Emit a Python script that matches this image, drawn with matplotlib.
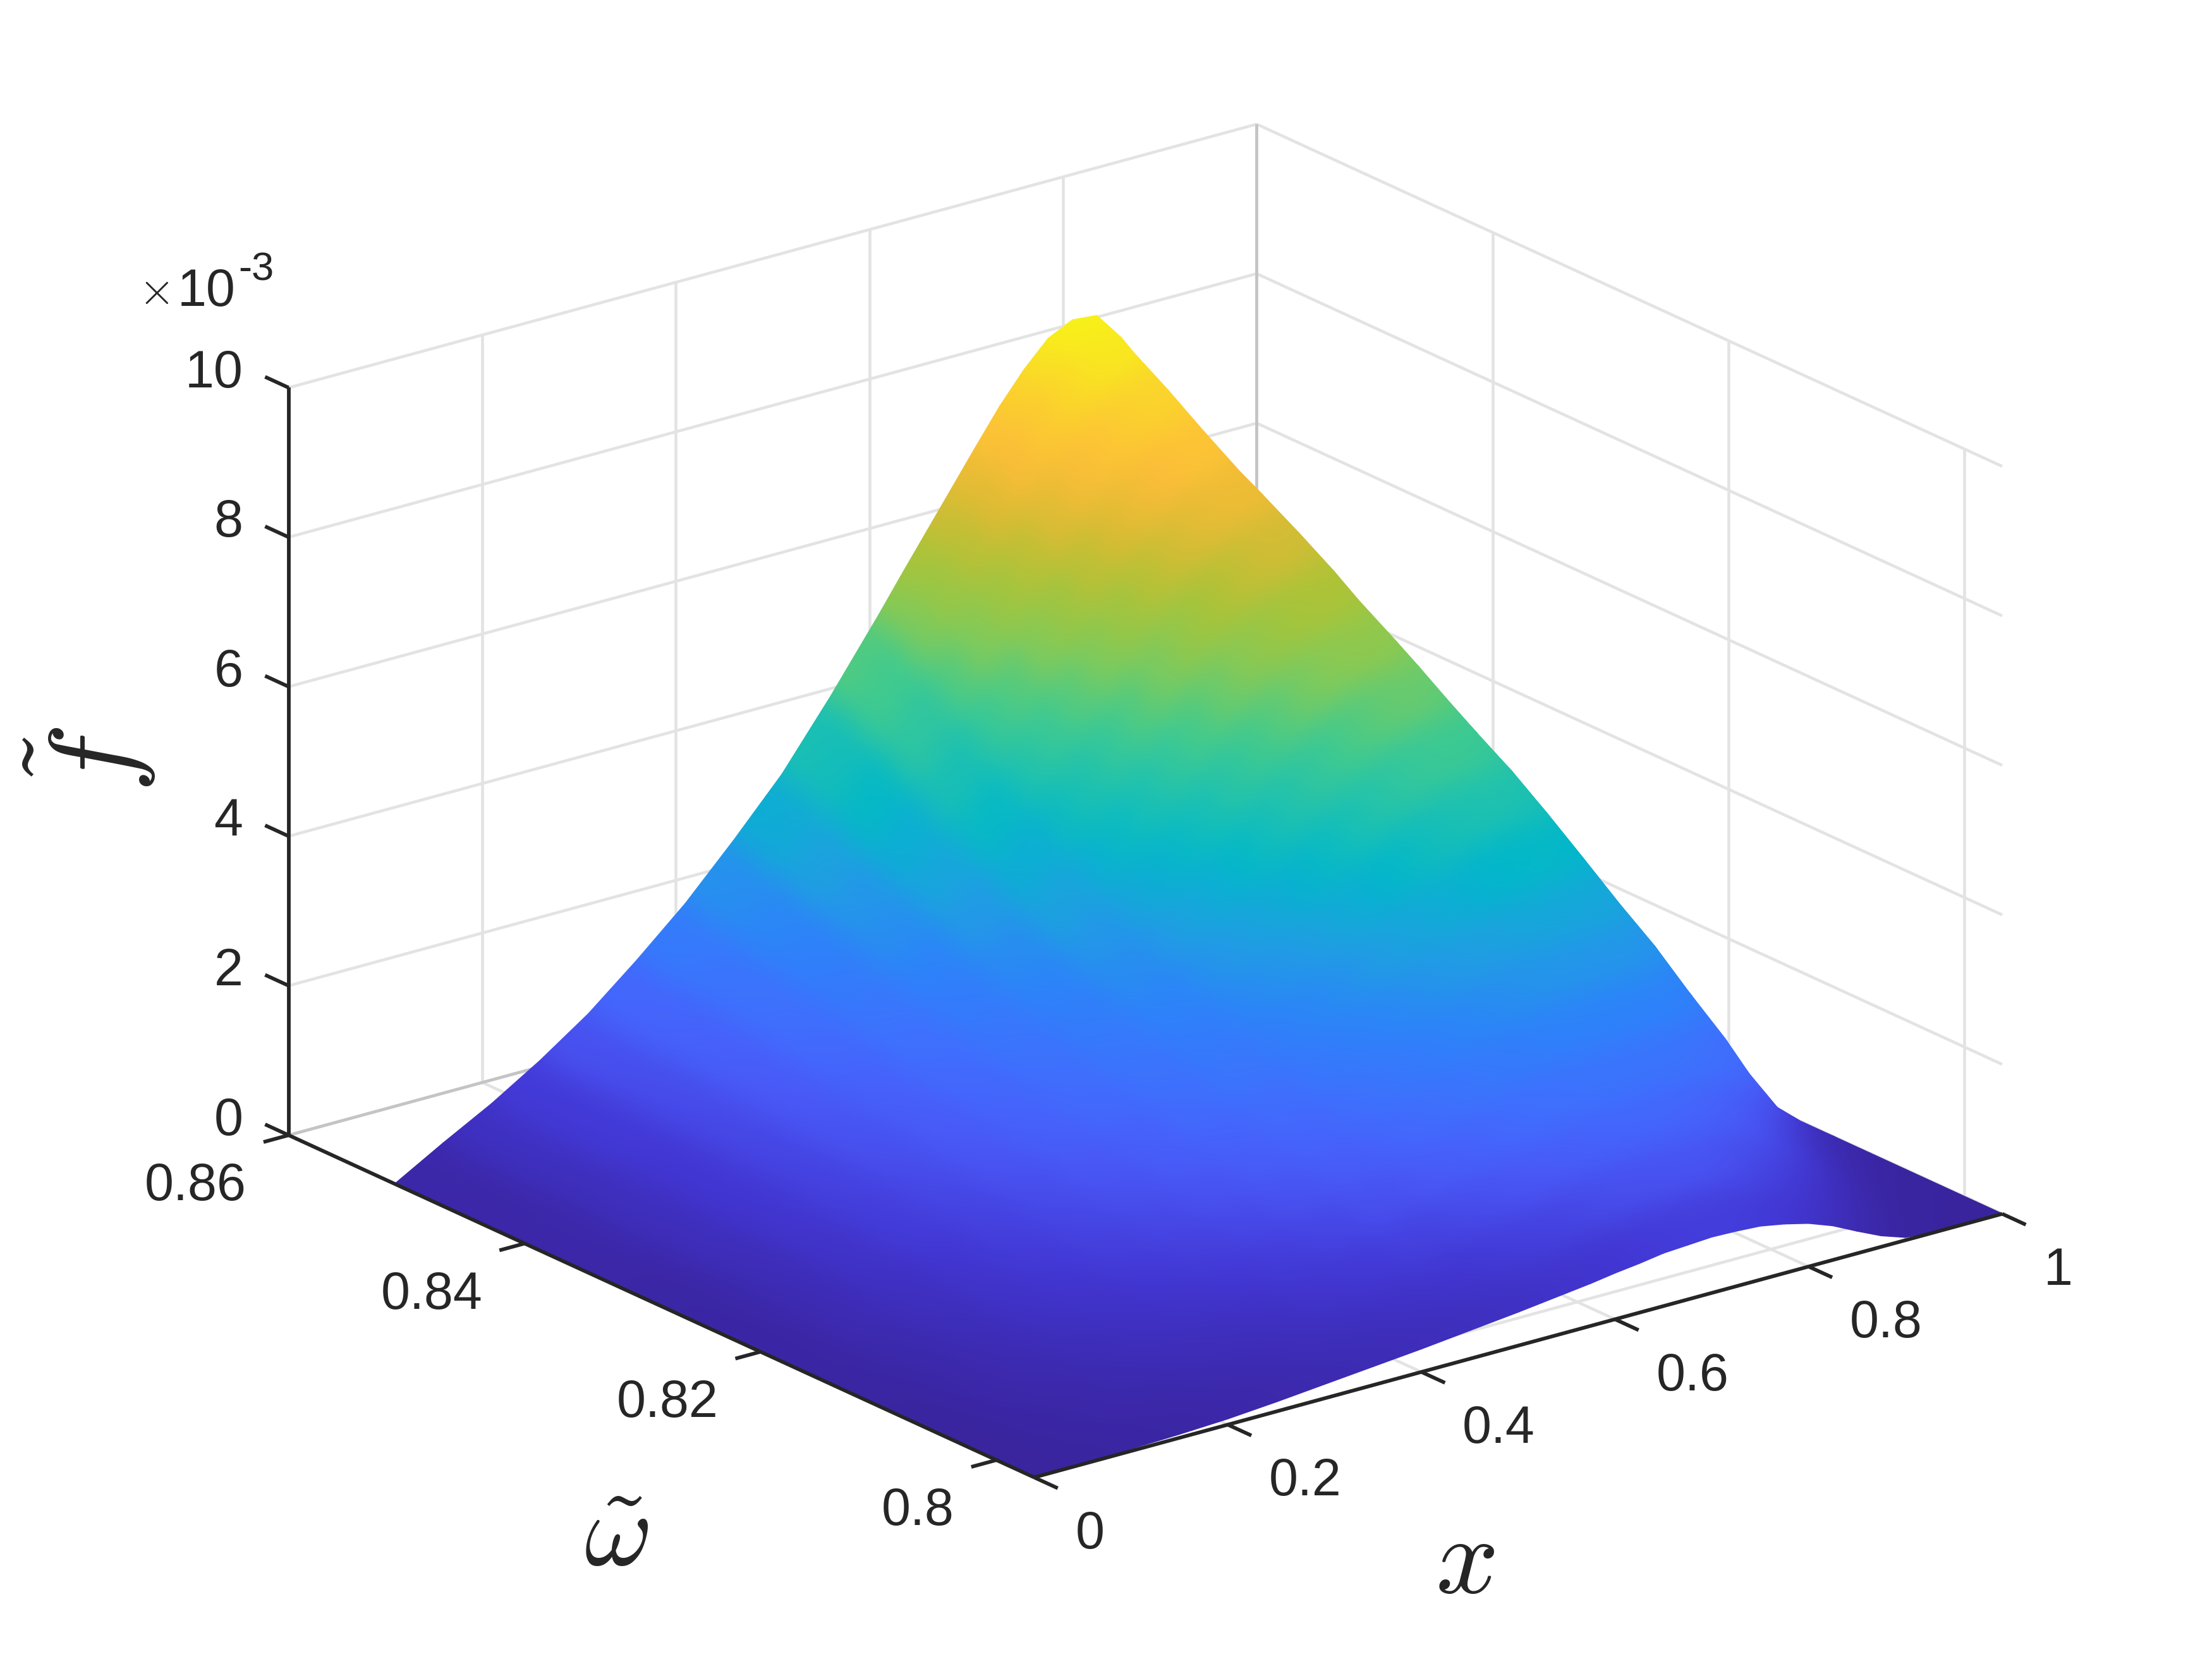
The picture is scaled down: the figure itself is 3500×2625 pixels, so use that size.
import matplotlib
matplotlib.use('Agg')
from matplotlib import pyplot as plt
from matplotlib.colors import LinearSegmentedColormap
from mpl_toolkits.mplot3d import proj3d
import numpy as np

# x columns and omega rows of the surface, f in units of 1e-3
x_vals = [0, .05, .1, .15, .2, .25, .3, .35, .4, .45, .5, .525, .55, .575, .6, .625, .65, .675, .7, .725,
          .75, .775, .8, .825, .85, .875, .9, .925, .95, 1]
w_vals = [.7968, .799, .802, .805, .808, .811, .814, .817, .82, .823, .826, .829, .832, .835, .838, .841,
          .844, .847, .85, .851]

f_w0 = [0, .01, .03, .05, .08, .13, .19, .25, .31, .38, .45, .49, .53, .57, .62, .66, .71, .73, .75, .74, .72, .66, .58, .46, .30, .15, .04, .01, 0, 0]
f_w1 = [0, .04, .09, .14, .19, .26, .32, .39, .48, .58, .69, .75, .82, .89, .95, 1.02, 1.08, 1.12, 1.15, 1.17, 1.13, .98, .86, .69, .50, .31, .12, .03, 0, 0]
f_w2 = [0, .06, .13, .21, .28, .37, .46, .55, .67, .80, .96, 1.04, 1.14, 1.23, 1.31, 1.40, 1.48, 1.54, 1.58, 1.60, 1.60, 1.50, 1.33, 1.10, .85, .58, .32, .13, .03, 0]
f_w3 = [0, .08, .18, .30, .41, .51, .63, .75, .92, 1.05, 1.25, 1.33, 1.43, 1.54, 1.64, 1.76, 1.86, 1.90, 1.95, 1.98, 1.98, 1.96, 1.87, 1.72, 1.50, 1.15, .75, .40, .16, 0]
f_w4 = [0, .11, .24, .40, .55, .68, .82, .99, 1.14, 1.34, 1.53, 1.63, 1.74, 1.88, 2.01, 2.14, 2.26, 2.34, 2.39, 2.42, 2.43, 2.43, 2.40, 2.36, 2.06, 1.50, .98, .60, .32, 0]
f_w5 = [0, .14, .30, .48, .63, .81, .98, 1.16, 1.34, 1.55, 1.78, 1.90, 2.03, 2.18, 2.34, 2.47, 2.60, 2.71, 2.80, 2.85, 2.88, 2.88, 2.87, 2.87, 2.45, 1.92, 1.32, .82, .44, 0]
f_w6 = [0, .18, .34, .56, .77, .95, 1.14, 1.34, 1.53, 1.75, 2.02, 2.17, 2.32, 2.48, 2.64, 2.80, 2.94, 3.08, 3.20, 3.26, 3.30, 3.30, 3.30, 3.25, 2.87, 2.32, 1.58, 1.00, .56, 0]
f_w7 = [0, .19, .41, .65, .84, 1.07, 1.25, 1.47, 1.68, 1.94, 2.25, 2.41, 2.56, 2.73, 2.90, 3.09, 3.26, 3.39, 3.53, 3.61, 3.67, 3.72, 3.74, 3.67, 3.22, 2.62, 1.82, 1.20, .68, 0]
f_w8 = [0, .22, .46, .75, .99, 1.19, 1.41, 1.63, 1.88, 2.18, 2.54, 2.69, 2.85, 3.05, 3.25, 3.42, 3.62, 3.77, 3.93, 4.09, 4.22, 4.30, 4.30, 4.05, 3.60, 2.90, 2.10, 1.38, .80, 0]
f_w9 = [0, .24, .50, .79, 1.04, 1.27, 1.49, 1.75, 2.03, 2.37, 2.72, 2.90, 3.10, 3.33, 3.52, 3.75, 3.97, 4.21, 4.44, 4.62, 4.72, 4.78, 4.75, 4.43, 3.97, 3.20, 2.38, 1.58, .92, 0]
f_w10 = [0, .26, .55, .85, 1.10, 1.34, 1.59, 1.88, 2.20, 2.56, 2.95, 3.16, 3.37, 3.63, 3.86, 4.16, 4.46, 4.73, 4.98, 5.17, 5.28, 5.35, 5.18, 4.75, 4.32, 3.60, 2.72, 1.85, 1.08, 0]
f_w11 = [0, .27, .59, .90, 1.17, 1.42, 1.70, 2.01, 2.37, 2.75, 3.21, 3.44, 3.70, 3.99, 4.31, 4.65, 4.99, 5.28, 5.52, 5.72, 5.81, 5.82, 5.52, 5.07, 4.62, 3.95, 3.05, 2.10, 1.25, 0]
f_w12 = [0, .28, .60, .94, 1.22, 1.49, 1.78, 2.14, 2.52, 2.94, 3.46, 3.70, 4.02, 4.39, 4.76, 5.13, 5.48, 5.80, 6.02, 6.19, 6.30, 6.22, 5.85, 5.40, 4.92, 4.15, 3.20, 2.25, 1.35, 0]
f_w13 = [0, .30, .61, .98, 1.29, 1.60, 1.95, 2.34, 2.76, 3.22, 3.79, 4.07, 4.46, 4.85, 5.23, 5.64, 6.00, 6.30, 6.56, 6.70, 6.80, 6.62, 6.15, 5.65, 5.05, 4.20, 3.25, 2.32, 1.40, 0]
f_w14 = [0, .32, .64, 1.01, 1.34, 1.71, 2.11, 2.53, 3.02, 3.57, 4.19, 4.54, 4.96, 5.35, 5.77, 6.22, 6.57, 6.86, 7.12, 7.25, 7.23, 6.92, 6.45, 5.85, 5.10, 4.18, 3.28, 2.35, 1.42, 0]
f_w15 = [0, .32, .66, 1.03, 1.39, 1.81, 2.23, 2.72, 3.25, 3.85, 4.56, 4.94, 5.38, 5.79, 6.22, 6.70, 7.05, 7.34, 7.60, 7.73, 7.62, 7.20, 6.60, 5.90, 5.10, 4.20, 3.30, 2.36, 1.42, 0]
f_w16 = [0, .34, .65, 1.08, 1.45, 1.92, 2.37, 2.90, 3.48, 4.20, 4.96, 5.33, 5.81, 6.25, 6.69, 7.16, 7.52, 7.81, 8.08, 8.20, 7.93, 7.45, 6.85, 6.02, 5.17, 4.28, 3.35, 2.40, 1.45, 0]
f_w17 = [0, .35, .67, 1.08, 1.48, 1.99, 2.52, 3.12, 3.79, 4.55, 5.36, 5.78, 6.27, 6.71, 7.16, 7.64, 8.02, 8.33, 8.56, 8.61, 8.26, 7.72, 7.02, 6.15, 5.25, 4.33, 3.38, 2.42, 1.45, 0]
f_w18 = [0, .36, .70, 1.10, 1.55, 2.08, 2.66, 3.30, 4.01, 4.85, 5.70, 6.15, 6.62, 7.10, 7.58, 8.08, 8.47, 8.80, 8.97, 8.95, 8.56, 7.85, 7.10, 6.25, 5.35, 4.40, 3.42, 2.45, 1.48, 0]
f_w19 = [0, .37, .72, 1.12, 1.57, 2.11, 2.69, 3.36, 4.07, 4.93, 5.85, 6.33, 6.80, 7.27, 7.74, 8.20, 8.60, 8.93, 9.09, 9.06, 8.68, 7.90, 7.15, 6.30, 5.40, 4.40, 3.40, 2.45, 1.50, 0]

x_ticks = [0, .2, .4, .6, .8, 1]
x_labels = ['0', '0.2', '0.4', '0.6', '0.8', '1']
w_ticks = [.80, .82, .84, .86]
w_labels = ['0.8', '0.82', '0.84', '0.86']
z_ticks = [0, 2, 4, 6, 8, 10]
z_labels = ['0', '2', '4', '6', '8', '10']

cmap_pos = [0, .09, .16, .22, .29, .36, .43, .5, .57, .64, .71, .78, .85, .92, 1]
cmap_cols = ['#3a259f', '#4338d6', '#4a5af8', '#4070ff', '#2d84fa', '#20a0e2', '#02b8cb', '#22c3ae',
             '#45cc8c', '#85cb58', '#aac438', '#dcbc34', '#ffbe3a', '#fbd52c', '#f8fb14']

plt.rcParams['font.family'] = ['Liberation Sans', 'DejaVu Sans']
plt.rcParams['mathtext.fontset'] = 'cm'
text_col = '#262626'
grid_col = '#e3e3e3'

x_min, x_max = 0, 1
w_min, w_max = .7968, .86
z_min, z_max = 0, 10

fig = plt.figure(figsize=(10, 7.5), dpi=350)
ax = fig.add_axes([.0077, .0038, 1, 1], projection='3d', proj_type='ortho', computed_zorder=False)
ax.view_init(elev=20.7, azim=-127.6)
ax.set_box_aspect((1, 1, .654), zoom=1.114)
ax.set_xlim(x_min, x_max, view_margin=0)
ax.set_ylim(w_min, w_max, view_margin=0)
ax.set_zlim(z_min, z_max, view_margin=0)
ax.set_axis_off()


def line(xs, ys, zs, col=grid_col, lw=.95, z=1):
    ax.plot(xs, ys, zs, color=col, lw=lw, zorder=z, clip_on=False, solid_capstyle='butt')


def label(x, y, z, s, ha):
    xp, yp, _ = proj3d.proj_transform(x, y, z, ax.get_proj())
    ax.text2D(xp, yp, s, transform=ax.transData, fontsize=17, color=text_col, ha=ha, va='center')


def box_blur(a, r, axis):
    n = a.shape[axis]
    pad = [(0, 0)] * a.ndim
    pad[axis] = (r + 1, r)
    c = np.cumsum(np.pad(a, pad), axis=axis)
    return np.take(c, np.arange(2 * r + 1, n + 2 * r + 1), axis=axis) - np.take(c, np.arange(n), axis=axis)


def smooth_shading(image, dpi):
    # evens out the flat facet colours when drawn, the outline of the surface stays as it is
    alpha = image[:, :, 3]
    rgb = image[:, :, :3] * alpha[:, :, None]
    weight = alpha.copy()
    for _ in range(3):
        for axis in (0, 1):
            rgb = box_blur(rgb, 16, axis)
            weight = box_blur(weight, 16, axis)
    out = image.copy()
    out[:, :, :3] = np.clip(rgb / np.maximum(weight, 1e-9)[:, :, None], 0, 1)
    return out, 0, 0


# back walls and floor grid
for t in x_ticks:
    if t < x_max:
        line([t, t], [w_min, w_max], [0, 0])
        line([t, t], [w_max, w_max], [z_min, z_max])
for t in w_ticks:
    line([x_min, x_max], [t, t], [0, 0])
    line([x_max, x_max], [t, t], [z_min, z_max])
for t in z_ticks:
    line([x_min, x_max], [w_max, w_max], [t, t])
    line([x_max, x_max], [w_min, w_max], [t, t])
line([x_max, x_max], [w_max, w_max], [z_min, z_max], col='#c4c4c4')
line([x_min, x_max], [w_max, w_max], [0, 0], col='#c4c4c4')

# surface
X, W = np.meshgrid(x_vals, w_vals)
F = np.array([f_w0, f_w1, f_w2, f_w3, f_w4, f_w5, f_w6, f_w7, f_w8, f_w9, f_w10, f_w11, f_w12, f_w13, f_w14,
              f_w15, f_w16, f_w17, f_w18, f_w19])
cmap = LinearSegmentedColormap.from_list('surf_map', list(zip(cmap_pos, cmap_cols)))
surf = ax.plot_surface(X, W, F, rstride=1, cstride=1, cmap=cmap, vmin=0, vmax=9.1,
                       antialiased=True, shade=False, zorder=2)
surf.set_edgecolor('face')
surf.set_linewidth(.4)
surf.set_clip_on(False)
surf.set_agg_filter(smooth_shading)

# axis lines, ticks and tick labels
line([x_min, x_max], [w_min, w_min], [0, 0], col=text_col, lw=1.2, z=3)
line([x_min, x_min], [w_min, w_max], [0, 0], col=text_col, lw=1.2, z=3)
line([x_min, x_min], [w_max, w_max], [z_min, z_max], col=text_col, lw=1.2, z=3)
for t, s in zip(x_ticks, x_labels):
    line([t, t], [w_min, w_min - .002], [0, 0], col=text_col, lw=1.2, z=3)
    label(t - .0537, w_min - .0079, 0, s, 'left')
for t, s in zip(w_ticks, w_labels):
    line([x_min, x_min - .026], [t, t], [0, 0], col=text_col, lw=1.2, z=3)
    label(x_min - .0998, t - .0046, 0, s, 'right')
for t, s in zip(z_ticks, z_labels):
    line([x_min, x_min], [w_max, w_max + .002], [t, t], col=text_col, lw=1.2, z=3)
    label(x_min - .0095, w_max + .0031, t, s, 'right')


def px(x, y):
    return x / 3500, 1 - y / 2625


fig.text(*px(2318, 2475), r'$x$', fontsize=36, color=text_col, ha='center', va='center')
fig.text(*px(975, 2434), r'$\tilde{\omega}$', fontsize=34, color=text_col, ha='center', va='center')
fig.text(*px(142, 1202), r'$\tilde{f}$', fontsize=38, color=text_col, ha='center', va='center', rotation=90)
fig.text(*px(243, 462), r'$\times$', fontsize=15, color=text_col, ha='center', va='center')
fig.text(*px(281, 484), '10', fontsize=17, color=text_col, ha='left', va='baseline')
fig.text(*px(377, 444), '-3', fontsize=13, color=text_col, ha='left', va='baseline')

fig.savefig('out.png', dpi=350)
